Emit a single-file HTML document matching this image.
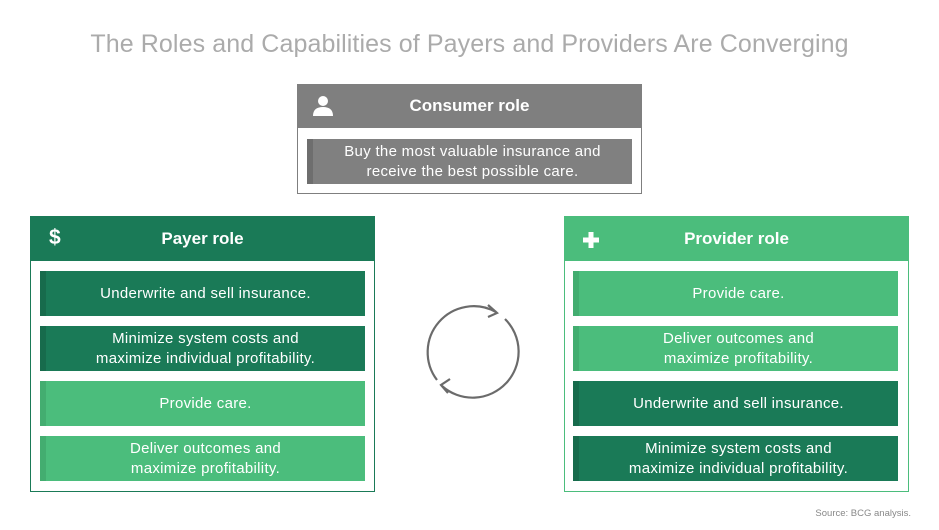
<!DOCTYPE html>
<html><head><style>
body{margin:0;width:939px;height:530px;background:#fff;font-family:"Liberation Sans",sans-serif;position:relative;overflow:hidden}
.a{position:absolute;box-sizing:border-box}
.t{position:absolute;left:0;top:30px;width:939px;text-align:center;font-size:25px;color:#ababab;letter-spacing:0.1px}
.hd{color:#fff;font-weight:bold;font-size:17px;display:flex;align-items:center;justify-content:center}
.it{color:#fff;font-size:15px;line-height:20px;letter-spacing:0.3px;display:flex;align-items:center;justify-content:center;text-align:center}
.dg{background:#1a7a57;border-left:6px solid #176b4c}
.lg{background:#4bbd7c;border-left:6px solid #43ad70}
</style></head><body>
<div class="t">The Roles and Capabilities of Payers and Providers Are Converging</div>

<div class="a" style="left:297px;top:84px;width:345px;height:110px;border:1px solid #7f7f7f"></div>
<div class="a hd" style="left:297px;top:84px;width:345px;height:44px;background:#7f7f7f">Consumer role</div>
<svg class="a" style="left:312px;top:95px" width="22" height="22"><circle cx="11" cy="6" r="5" fill="#fff"/><path d="M1 21 Q1 12 11 12 Q21 12 21 21Z" fill="#fff"/></svg>
<div class="a it" style="left:307px;top:139px;width:325px;height:45px;background:#808080;border-left:6px solid #6e6e6e">Buy the most valuable insurance and<br>receive the best possible care.</div>

<div class="a" style="left:30px;top:216px;width:345px;height:276px;border:1px solid #1a7a57"></div>
<div class="a hd" style="left:30px;top:216px;width:345px;height:45px;background:#1a7a57">Payer role</div>
<div class="a" style="left:49px;top:226px;color:#fff;font-weight:bold;font-size:21px">$</div>
<div class="a it dg" style="left:40px;top:271px;width:325px;height:45px">Underwrite and sell insurance.</div>
<div class="a it dg" style="left:40px;top:326px;width:325px;height:45px">Minimize system costs and<br>maximize individual profitability.</div>
<div class="a it lg" style="left:40px;top:381px;width:325px;height:45px">Provide care.</div>
<div class="a it lg" style="left:40px;top:436px;width:325px;height:45px">Deliver outcomes and<br>maximize profitability.</div>

<div class="a" style="left:564px;top:216px;width:345px;height:276px;border:1px solid #4bbd7c"></div>
<div class="a hd" style="left:564px;top:216px;width:345px;height:45px;background:#4bbd7c">Provider role</div>
<svg class="a" style="left:583px;top:232px" width="16" height="16"><rect x="5.5" y="0" width="5" height="16" fill="#fff"/><rect x="0" y="5.5" width="16" height="5" fill="#fff"/></svg>
<div class="a it lg" style="left:573px;top:271px;width:325px;height:45px">Provide care.</div>
<div class="a it lg" style="left:573px;top:326px;width:325px;height:45px">Deliver outcomes and<br>maximize profitability.</div>
<div class="a it dg" style="left:573px;top:381px;width:325px;height:45px">Underwrite and sell insurance.</div>
<div class="a it dg" style="left:573px;top:436px;width:325px;height:45px">Minimize system costs and<br>maximize individual profitability.</div>

<svg class="a" style="left:0;top:0" width="939" height="530" fill="none" stroke="#6b6b6b" stroke-width="2.2">
<path d="M437 380 A46 46 0 0 1 496 312"/>
<path d="M505 319 A46 46 0 0 1 442 386"/>
<path d="M488 305 L497 313 L488 317"/>
<path d="M450 379 L441 385 L448 393"/>
</svg>
<div class="a" style="right:28px;top:508px;font-size:9.5px;color:#888">Source: BCG analysis.</div>
</body></html>
